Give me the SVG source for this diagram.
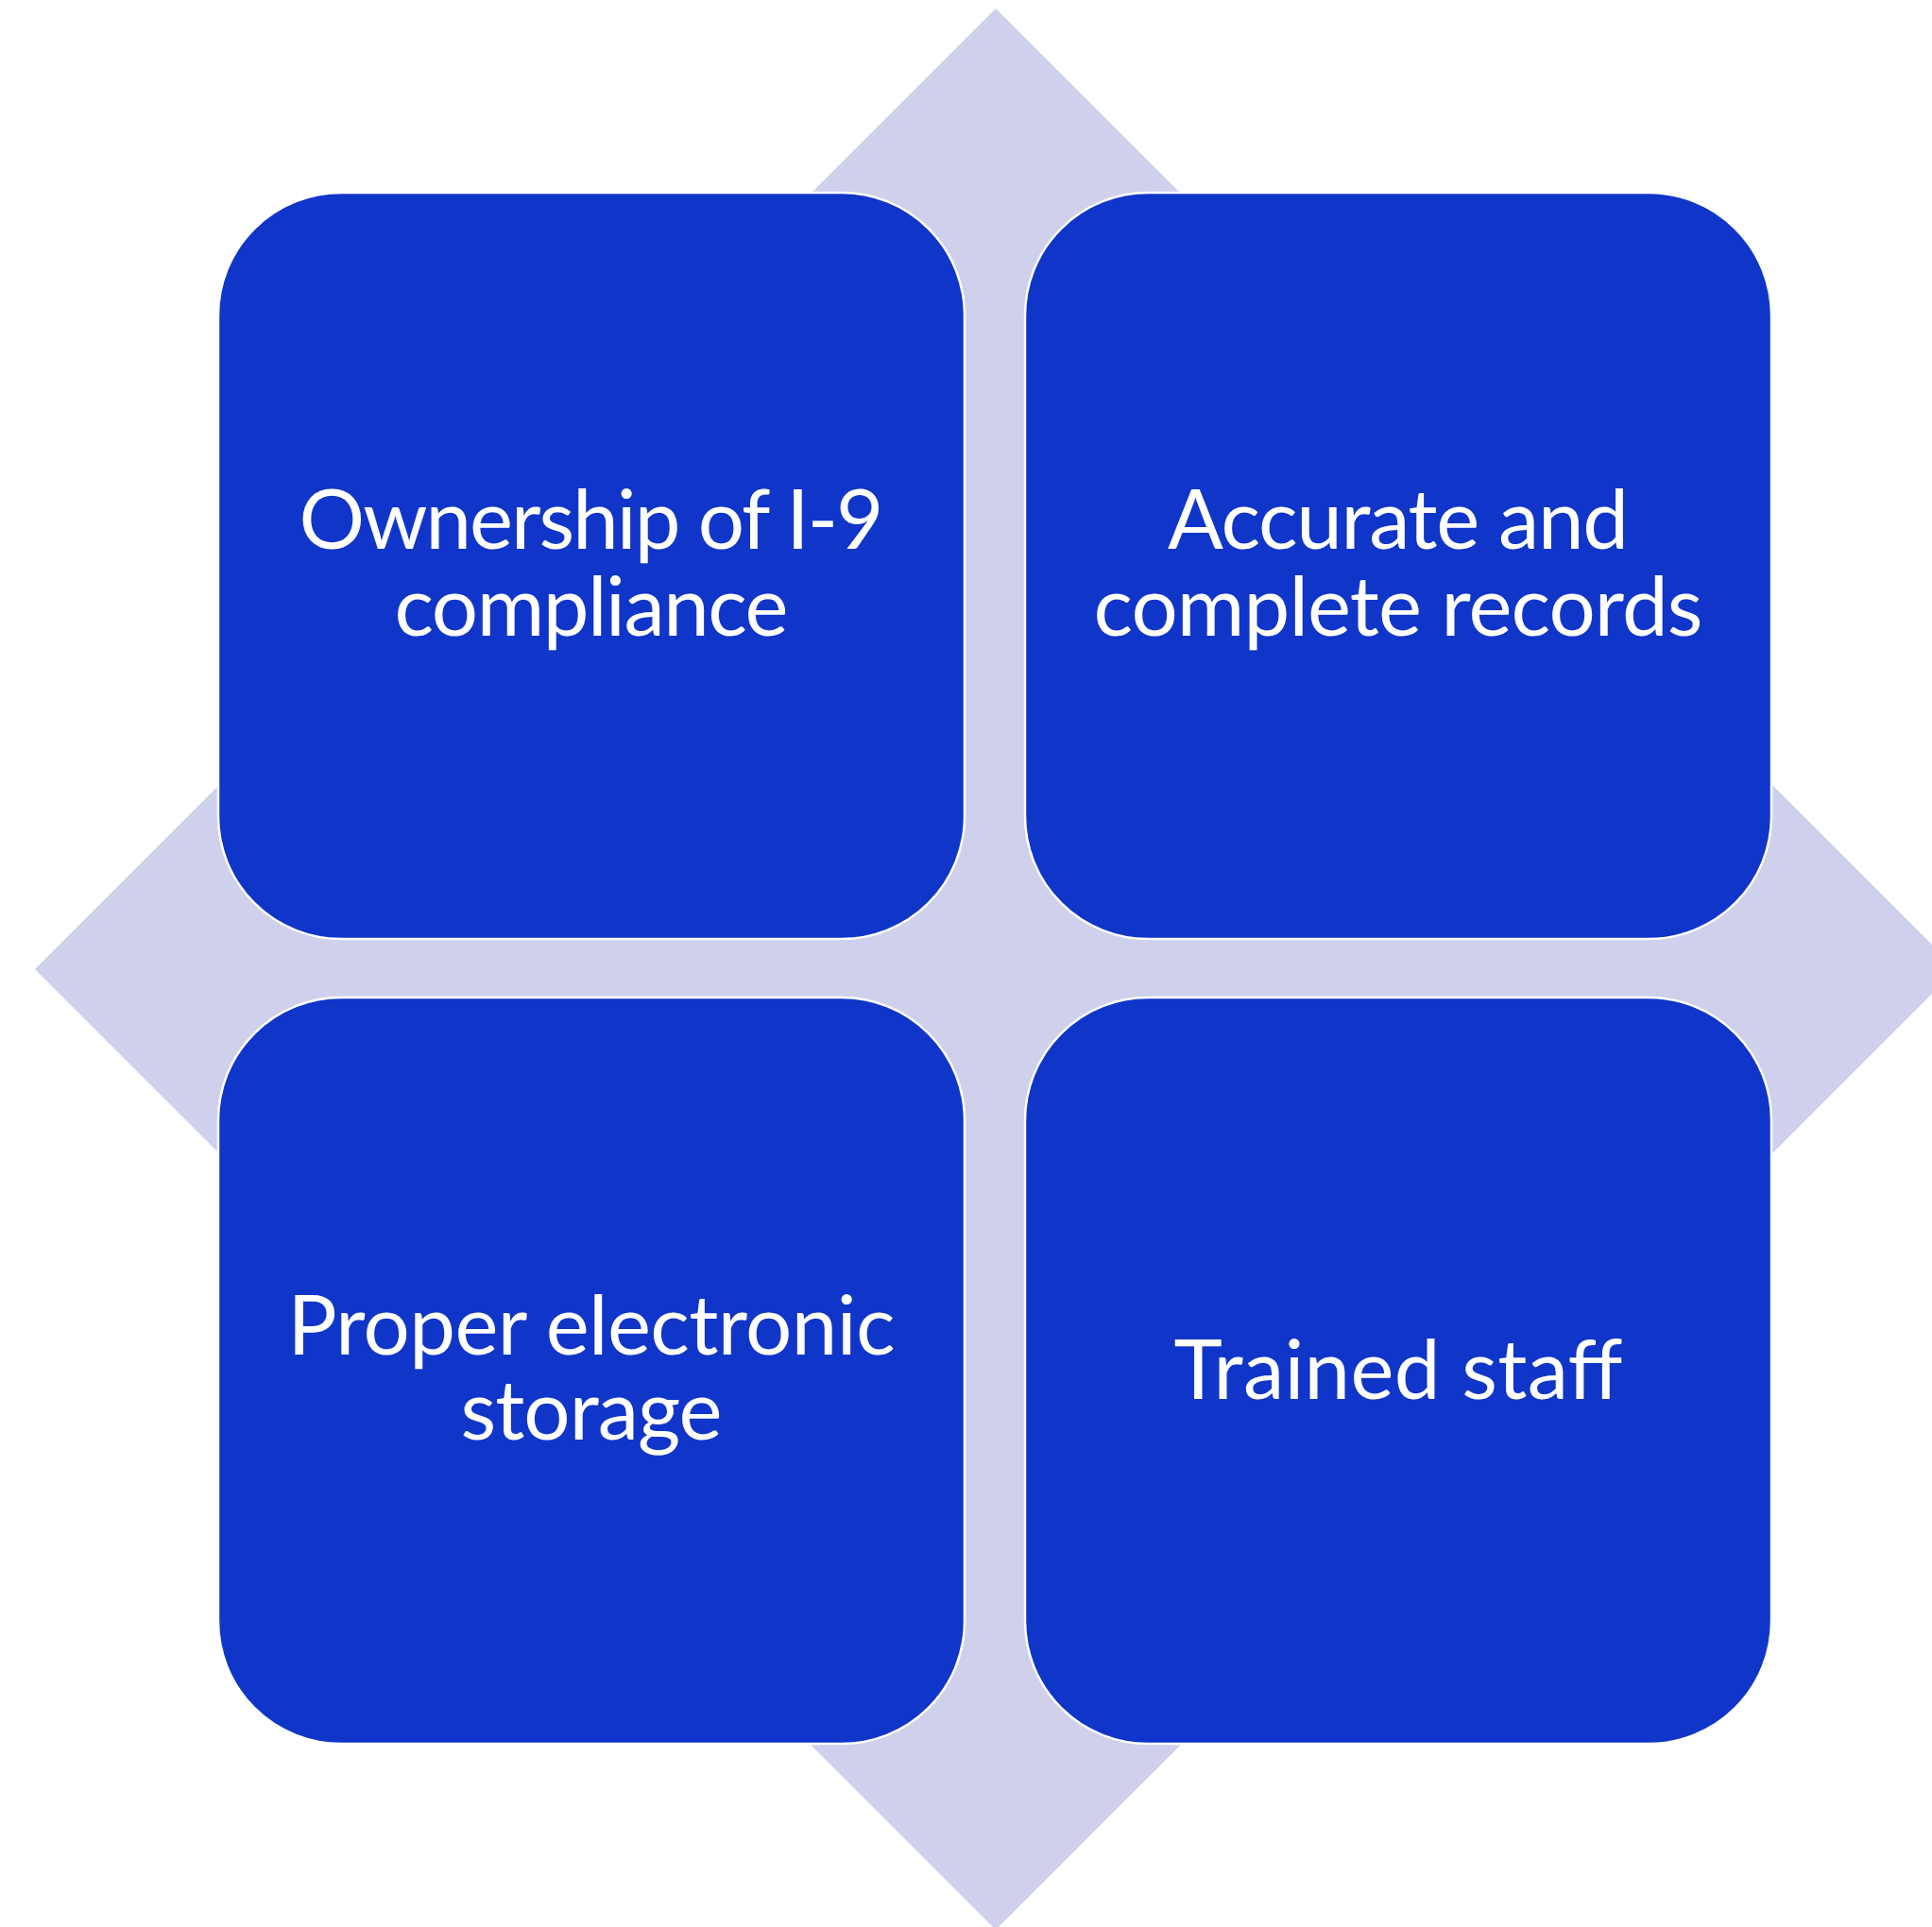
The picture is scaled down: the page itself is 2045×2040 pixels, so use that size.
<svg xmlns="http://www.w3.org/2000/svg" width="2045" height="2040" viewBox="0 0 2045 2040">
  <style>
    .box { fill: #1035C9; stroke: #FFFFFF; stroke-width: 2.5; }
    .label { font-family: Lato, "Liberation Sans", sans-serif; font-size: 87px; fill: #FFFFFF; text-anchor: middle; }
  </style>
  <rect width="2045" height="2040" fill="#FFFFFF"/>
  <!-- background diamond -->
  <g id="diamond">
    <polygon points="1054,9 2071,1026 1054,2043 37,1026" fill="#CED0EC"/>
  </g>
  <g id="node-ownership">
    <rect class="box" x="231" y="204" width="790" height="790" rx="130" ry="130"/>
    <text class="label" x="626" y="581" textLength="619" lengthAdjust="spacing">Ownership of I-9</text>
    <text class="label" x="626" y="673" textLength="417" lengthAdjust="spacing">compliance</text>
  </g>
  <g id="node-records">
    <rect class="box" x="1085" y="204" width="790" height="790" rx="130" ry="130"/>
    <text class="label" x="1480" y="581" textLength="488" lengthAdjust="spacing">Accurate and</text>
    <text class="label" x="1480" y="673" textLength="645" lengthAdjust="spacing">complete records</text>
  </g>
  <g id="node-storage">
    <rect class="box" x="231" y="1056" width="790" height="790" rx="130" ry="130"/>
    <text class="label" x="626" y="1434" textLength="643" lengthAdjust="spacing">Proper electronic</text>
    <text class="label" x="626" y="1524" textLength="277" lengthAdjust="spacing">storage</text>
  </g>
  <g id="node-staff">
    <rect class="box" x="1085" y="1056" width="790" height="790" rx="130" ry="130"/>
    <text class="label" x="1480" y="1481" textLength="475" lengthAdjust="spacing">Trained staff</text>
  </g>
  <g id="connectors"/>
</svg>
